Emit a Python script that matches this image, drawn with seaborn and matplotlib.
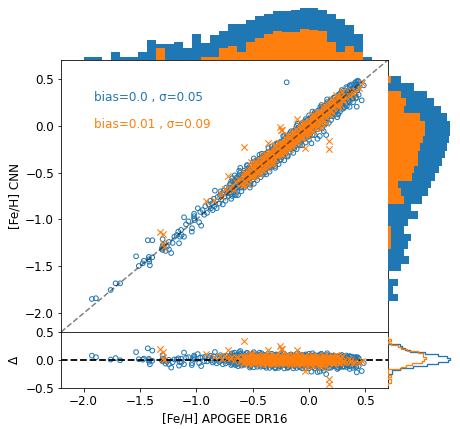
import numpy as np
import matplotlib
matplotlib.use("Agg")
import matplotlib.pyplot as plt
import seaborn as sns

# ---------------- data ----------------
# blue sample ([Fe/H] APOGEE DR16 vs [Fe/H] CNN): outskirts and wings
blue_apogee = [
    -1.926, -1.890, -1.760, -1.716, -1.676, -1.534, -1.510, -1.475, -1.465, -1.430,
    -1.421, -1.421, -1.418, -1.412, -1.391, -1.390, -1.305, -1.300, -1.300, -1.299,
    -1.295, -1.290, -1.272, -1.260, -1.243, -1.243, -1.223, -1.210, -1.195, -1.174,
    -1.160, -1.153, -1.145, -1.136, -1.130, -1.109, -1.109, -1.091, -1.070,
    -1.040, -1.038, -1.020, -1.020, -1.020, -1.015, -0.987, -0.975, -0.965,
    -0.957, -0.945, -0.930, -0.920, -0.905, -0.890,
    -0.875, -0.870, -0.860, -0.855, -0.845, -0.840, -0.835, -0.820, -0.810,
    -0.795, -0.790, -0.785, -0.780, -0.770, -0.765, -0.755, -0.750, -0.740, -0.735, -0.725,
    -0.715, -0.710, -0.705, -0.700, -0.690, -0.685, -0.680, -0.670, -0.665, -0.660, -0.655, -0.650, -0.645,
    -0.635, -0.630, -0.625, -0.620, -0.610, -0.605, -0.600, -0.595, -0.590, -0.580, -0.575, -0.570, -0.565,
    -0.555, -0.550, -0.545, -0.540, -0.535, -0.530, -0.525, -0.520, -0.515, -0.510, -0.505, -0.500, -0.495, -0.490, -0.485,
    -0.478, -0.475, -0.470, -0.465, -0.460, -0.455, -0.450, -0.445, -0.440, -0.435, -0.430, -0.425, -0.420, -0.415, -0.410, -0.405,
    -0.398, -0.395, -0.390, -0.385, -0.380, -0.375, -0.370, -0.365, -0.360, -0.355, -0.350, -0.345, -0.340, -0.335, -0.330, -0.325, -0.322,
    -0.318, -0.315, -0.310, -0.305, -0.300, -0.295, -0.290, -0.285, -0.280, -0.275, -0.270, -0.265, -0.260, -0.255, -0.250, -0.248, -0.245, -0.242,
    -0.238, -0.235, -0.230, -0.225, -0.220, -0.215, -0.210, -0.205, -0.200, -0.199, -0.195, -0.190, -0.185, -0.180, -0.175, -0.170, -0.168, -0.165, -0.162,
    -0.158, -0.155, -0.150, -0.145, -0.140, -0.135, -0.130, -0.125, -0.120, -0.115, -0.110, -0.105, -0.100, -0.095, -0.090, -0.088, -0.085, -0.082,
    -0.078, -0.075, -0.070, -0.065, -0.060, -0.055, -0.050, -0.045, -0.040, -0.035, -0.030, -0.025, -0.020, -0.015, -0.010, -0.008, -0.005, -0.003, -0.001,
    0.002, 0.005, 0.010, 0.015, 0.021, 0.025, 0.030, 0.035, 0.040, 0.045, 0.050, 0.055, 0.060, 0.065, 0.070, 0.072, 0.075, 0.077, 0.079,
    0.082, 0.085, 0.090, 0.095, 0.100, 0.105, 0.110, 0.115, 0.120, 0.125, 0.130, 0.135, 0.140, 0.145, 0.150, 0.152, 0.155, 0.158,
    0.162, 0.165, 0.170, 0.175, 0.180, 0.185, 0.190, 0.195, 0.200, 0.205, 0.210, 0.215, 0.220, 0.225, 0.230, 0.235, 0.238,
    0.242, 0.245, 0.250, 0.255, 0.260, 0.265, 0.270, 0.275, 0.280, 0.290, 0.295, 0.300, 0.305, 0.310, 0.315,
    0.322, 0.325, 0.330, 0.335, 0.340, 0.350, 0.355, 0.360, 0.365, 0.370, 0.380, 0.385, 0.395,
    0.405, 0.410, 0.415, 0.423, 0.430, 0.432, 0.440, 0.467, 0.485,
]
blue_cnn = [
    -1.848, -1.840, -1.752, -1.681, -1.681, -1.393, -1.496, -1.468, -1.440, -1.222,
    -1.400, -1.425, -1.450, -1.489, -1.404, -1.222, -1.310, -1.290, -1.325, -1.211,
    -1.270, -1.300, -1.336, -1.290, -1.318, -1.240, -1.358, -1.250, -1.184, -1.166,
    -1.130, -1.254, -1.184, -1.112, -1.166, -1.184, -0.977, -1.052, -1.020,
    -1.130, -1.094, -0.940, -0.965, -0.990, -1.006, -0.881, -1.030, -0.920,
    -1.066, -0.900, -0.950, -0.860, -0.930, -0.840,
    -0.800, -0.880, -0.830, -0.900, -0.780, -0.860, -0.693, -0.880, -0.760,
    -0.830, -0.740, -0.700, -0.790, -0.720, -0.840, -0.690, -0.760, -0.800, -0.660, -0.720,
    -0.750, -0.660, -0.720, -0.620, -0.780, -0.680, -0.600, -0.710, -0.640, -0.740, -0.580, -0.670, -0.620,
    -0.700, -0.580, -0.640, -0.530, -0.450, -0.600, -0.700, -0.550, -0.620, -0.500, -0.660, -0.580, -0.520,
    -0.620, -0.500, -0.560, -0.450, -0.600, -0.520, -0.660, -0.480, -0.550, -0.420, -0.580, -0.500, -0.460, -0.620, -0.530,
    -0.550, -0.440, -0.490, -0.380, -0.580, -0.460, -0.410, -0.520, -0.350, -0.470, -0.550, -0.400, -0.440, -0.330, -0.500, -0.420,
    -0.470, -0.360, -0.410, -0.300, -0.520, -0.390, -0.330, -0.450, -0.280, -0.400, -0.490, -0.340, -0.370, -0.260, -0.440, -0.310, -0.390,
    -0.420, -0.300, -0.350, -0.220, -0.450, -0.310, -0.270, -0.380, -0.200, -0.330, -0.410, -0.260, -0.290, -0.180, -0.360, -0.230, -0.310, -0.270,
    -0.330, -0.210, -0.260, -0.150, -0.370, -0.230, -0.190, -0.300, -0.120, 0.462, -0.250, -0.330, -0.180, -0.210, -0.100, -0.280, -0.150, -0.230, -0.190,
    -0.250, -0.130, -0.180, -0.070, -0.290, -0.150, -0.110, -0.220, -0.040, -0.170, -0.250, -0.100, -0.130, -0.020, -0.200, -0.070, -0.150, -0.110,
    -0.170, -0.050, -0.100, 0.010, -0.210, -0.070, -0.030, -0.140, 0.040, -0.090, -0.180, -0.020, -0.050, 0.060, -0.120, 0.000, -0.080, -0.040, -0.150,
    -0.090, 0.030, -0.020, 0.090, -0.188, 0.010, 0.050, -0.060, 0.120, -0.010, -0.100, 0.060, 0.030, 0.140, -0.040, 0.080, -0.140, 0.020, 0.100,
    -0.010, 0.110, 0.060, -0.110, 0.170, 0.040, 0.090, -0.030, 0.200, 0.070, -0.060, 0.120, 0.100, 0.220, 0.030, -0.100, 0.160, 0.080,
    0.090, 0.200, 0.140, 0.030, 0.250, 0.120, 0.180, 0.060, 0.270, 0.150, 0.100, 0.210, 0.190, 0.300, 0.120, 0.240, 0.170,
    0.160, 0.280, 0.220, 0.120, 0.330, 0.200, 0.250, 0.150, 0.350, 0.230, 0.290, 0.180, 0.370, 0.260, 0.320,
    0.240, 0.360, 0.300, 0.210, 0.400, 0.280, 0.340, 0.250, 0.420, 0.310, 0.370, 0.290, 0.400,
    0.350, 0.430, 0.290, 0.202, 0.380, 0.479, 0.410, 0.270, 0.430,
]

# blue sample: dense core of the sequence (two CNN readings per APOGEE position)
blue_core_apogee = [
    -0.70, -0.69, -0.68, -0.67, -0.66, -0.65, -0.64, -0.63, -0.62, -0.61,
    -0.60, -0.59, -0.58, -0.57, -0.56, -0.55, -0.54, -0.53, -0.52, -0.51,
    -0.50, -0.49, -0.48, -0.47, -0.46, -0.45, -0.44, -0.43, -0.42, -0.41,
    -0.40, -0.39, -0.38, -0.37, -0.36, -0.35, -0.34, -0.33, -0.32, -0.31,
    -0.30, -0.29, -0.28, -0.27, -0.26, -0.25, -0.24, -0.23, -0.22, -0.21,
    -0.20, -0.19, -0.18, -0.17, -0.16, -0.15, -0.14, -0.13, -0.12, -0.11,
    -0.10, -0.09, -0.08, -0.07, -0.06, -0.05, -0.04, -0.03, -0.02, -0.01,
    0.00, 0.01, 0.02, 0.03, 0.04, 0.05, 0.06, 0.07, 0.08, 0.09,
    0.10, 0.11, 0.12, 0.13, 0.14, 0.15, 0.16, 0.17, 0.18, 0.19,
    0.20, 0.21, 0.22, 0.23, 0.24, 0.25, 0.26, 0.27, 0.28, 0.29,
    0.30, 0.31, 0.32, 0.33, 0.34, 0.35, 0.36, 0.37, 0.38, 0.39,
    0.40, 0.41, 0.42, 0.43, 0.44,
]
blue_core_cnn_a = [
    -0.63, -0.73, -0.56, -0.66, -0.61, -0.74, -0.55, -0.65, -0.48, -0.59,
    -0.66, -0.53, -0.58, -0.50, -0.60, -0.43, -0.53, -0.48, -0.61, -0.42,
    -0.52, -0.35, -0.46, -0.53, -0.40, -0.45, -0.37, -0.47, -0.30, -0.40,
    -0.37, -0.50, -0.31, -0.41, -0.24, -0.35, -0.42, -0.29, -0.34, -0.26,
    -0.36, -0.19, -0.29, -0.24, -0.37, -0.18, -0.28, -0.11, -0.22, -0.29,
    -0.16, -0.21, -0.13, -0.23, -0.06, -0.16, -0.11, -0.24, -0.05, -0.15,
    0.02, -0.09, -0.16, -0.03, -0.08, 0.00, -0.10, 0.07, -0.03, 0.02,
    -0.11, 0.08, -0.02, 0.15, 0.04, -0.03, 0.10, 0.05, 0.13, 0.03,
    0.20, 0.10, 0.15, 0.02, 0.21, 0.11, 0.28, 0.17, 0.10, 0.23,
    0.18, 0.23, 0.13, 0.30, 0.20, 0.25, 0.12, 0.31, 0.21, 0.38,
    0.27, 0.20, 0.33, 0.28, 0.36, 0.26, 0.43, 0.33, 0.38, 0.25,
    0.44, 0.34, 0.47, 0.40, 0.33,
]
blue_core_cnn_b = [
    -0.71, -0.59, -0.75, -0.63, -0.53, -0.68, -0.56, -0.74, -0.59, -0.50,
    -0.65, -0.60, -0.48, -0.64, -0.52, -0.42, -0.57, -0.45, -0.63, -0.48,
    -0.39, -0.54, -0.49, -0.37, -0.53, -0.41, -0.31, -0.46, -0.34, -0.52,
    -0.39, -0.30, -0.45, -0.40, -0.28, -0.44, -0.32, -0.22, -0.37, -0.25,
    -0.43, -0.28, -0.19, -0.34, -0.29, -0.17, -0.33, -0.21, -0.11, -0.26,
    -0.14, -0.32, -0.17, -0.08, -0.23, -0.18, -0.06, -0.22, -0.10, 0.00,
    -0.15, -0.03, -0.21, -0.06, 0.03, -0.12, -0.07, 0.05, -0.11, 0.01,
    0.11, -0.04, 0.08, -0.10, 0.05, 0.14, -0.01, 0.04, 0.16, 0.00,
    0.12, 0.22, 0.07, 0.19, 0.01, 0.16, 0.25, 0.10, 0.15, 0.27,
    0.11, 0.20, 0.30, 0.15, 0.27, 0.09, 0.24, 0.33, 0.18, 0.23,
    0.35, 0.19, 0.31, 0.41, 0.26, 0.38, 0.20, 0.35, 0.44, 0.29,
    0.34, 0.46, 0.30, 0.42, 0.47,
]

# orange sample: outskirts and wings
orange_apogee = [
    -1.320, -1.296, -1.296, -1.290,
    -0.915, -0.847,
    -0.790, -0.770, -0.750, -0.730,
    -0.716, -0.700, -0.680, -0.665, -0.650,
    -0.630, -0.600, -0.574,
    -0.555, -0.540, -0.525, -0.514, -0.500, -0.485,
    -0.475, -0.460, -0.450, -0.440, -0.425, -0.415, -0.405,
    -0.395, -0.385, -0.375, -0.365, -0.360, -0.350, -0.340, -0.330, -0.325,
    -0.315, -0.305, -0.295, -0.285, -0.275, -0.270, -0.261, -0.255, -0.250, -0.246,
    -0.237, -0.235, -0.225, -0.215, -0.205, -0.195, -0.185, -0.175, -0.165,
    -0.155, -0.145, -0.135, -0.125, -0.115, -0.104, -0.100, -0.090, -0.085,
    -0.075, -0.070, -0.060, -0.050, -0.038, -0.035, -0.025, -0.020, -0.010, -0.005,
    0.005, 0.010, 0.020, 0.030, 0.035, 0.045, 0.050, 0.060, 0.070, 0.075,
    0.085, 0.090, 0.100, 0.105, 0.115, 0.125, 0.130, 0.140, 0.150, 0.155,
    0.175, 0.179, 0.190, 0.200, 0.215, 0.230,
    0.260, 0.280, 0.300,
    0.330, 0.350, 0.360, 0.375, 0.390,
    0.410, 0.440, 0.467,
]
orange_cnn = [
    -1.130, -1.158, -1.254, -1.290,
    -0.803, -0.793,
    -0.720, -0.760, -0.680, -0.700,
    -0.537, -0.660, -0.630, -0.690, -0.600,
    -0.570, -0.620, -0.231,
    -0.500, -0.570, -0.470, -0.384, -0.530, -0.440,
    -0.420, -0.500, -0.360, -0.450, -0.390, -0.470, -0.340,
    -0.400, -0.310, -0.450, -0.181, -0.350, -0.280, -0.410, -0.300, -0.360,
    -0.270, -0.360, -0.220, -0.310, -0.250, -0.190, -0.017, -0.300, -0.210, -0.046,
    -0.046, -0.240, -0.180, -0.270, -0.140, -0.220, -0.100, -0.190, -0.250,
    -0.160, -0.080, -0.200, -0.110, -0.040, 0.070, -0.150, -0.060, -0.120,
    -0.100, -0.020, -0.130, -0.060, -0.235, 0.010, -0.090, -0.030, -0.110, 0.020,
    -0.050, 0.050, -0.010, 0.080, -0.070, 0.030, 0.100, -0.020, 0.060, 0.110,
    0.020, 0.120, 0.070, -0.020, 0.140, 0.050, 0.170, 0.100, 0.030, 0.130,
    -0.252, -0.164, 0.160, 0.240, 0.190, 0.270,
    0.220, 0.310, 0.260,
    0.290, 0.360, 0.320, 0.380, 0.340,
    0.370, 0.400, 0.452,
]

# orange sample: dense core (two CNN readings per APOGEE position)
orange_core_apogee = [
    -0.600, -0.588, -0.576, -0.564, -0.552, -0.540, -0.528, -0.516, -0.504, -0.492,
    -0.480, -0.468, -0.456, -0.444, -0.432, -0.420, -0.408, -0.396, -0.384, -0.372,
    -0.360, -0.348, -0.336, -0.324, -0.312, -0.300, -0.288, -0.276, -0.264, -0.252,
    -0.240, -0.228, -0.216, -0.204, -0.192, -0.180, -0.168, -0.156, -0.144, -0.132,
    -0.120, -0.108, -0.096, -0.084, -0.072, -0.060, -0.048, -0.036, -0.024, -0.012,
    0.000, 0.012, 0.024, 0.036, 0.048, 0.060, 0.072, 0.084, 0.096, 0.108,
    0.120, 0.132, 0.144, 0.156, 0.168, 0.180, 0.192, 0.204, 0.216, 0.228,
    0.240, 0.252, 0.264, 0.276, 0.288, 0.300,
]
orange_core_cnn_a = [
    -0.580, -0.638, -0.506, -0.584, -0.512, -0.620, -0.528, -0.426, -0.544, -0.472,
    -0.530, -0.398, -0.476, -0.404, -0.512, -0.420, -0.318, -0.436, -0.364, -0.422,
    -0.290, -0.368, -0.296, -0.404, -0.312, -0.210, -0.328, -0.256, -0.314, -0.182,
    -0.260, -0.188, -0.296, -0.204, -0.102, -0.220, -0.148, -0.206, -0.074, -0.152,
    -0.080, -0.188, -0.096, 0.006, -0.112, -0.040, -0.098, 0.034, -0.044, 0.028,
    -0.080, 0.012, 0.114, -0.004, 0.068, 0.010, 0.142, 0.064, 0.136, 0.028,
    0.120, 0.222, 0.104, 0.176, 0.118, 0.250, 0.172, 0.244, 0.136, 0.228,
    0.330, 0.212, 0.284, 0.226, 0.358, 0.280,
]
orange_core_cnn_b = [
    -0.610, -0.538, -0.636, -0.534, -0.472, -0.570, -0.518, -0.526, -0.454, -0.552,
    -0.450, -0.388, -0.486, -0.434, -0.442, -0.370, -0.468, -0.366, -0.304, -0.402,
    -0.350, -0.358, -0.286, -0.384, -0.282, -0.220, -0.318, -0.266, -0.274, -0.202,
    -0.300, -0.198, -0.136, -0.234, -0.182, -0.190, -0.118, -0.216, -0.114, -0.052,
    -0.150, -0.098, -0.106, -0.034, -0.132, -0.030, 0.032, -0.066, -0.014, -0.022,
    0.050, -0.048, 0.054, 0.116, 0.018, 0.070, 0.062, 0.134, 0.036, 0.138,
    0.200, 0.102, 0.154, 0.146, 0.218, 0.120, 0.222, 0.284, 0.186, 0.238,
    0.230, 0.302, 0.204, 0.306, 0.368, 0.270,
]

# marginal histogram heights
top_start, top_width = -2.0, 0.08
top_blue = [2.7, 2.7, 0, 8, 2.7, 2.7, 8, 20, 16, 16, 18, 12, 26, 17, 25, 29,
            36, 36, 40, 44, 46, 49, 49, 50, 52, 52, 50, 46, 41, 35, 26, 3]
top_orange = [0, 0, 0, 0, 0, 0, 0, 0, 12, 0, 0, 0, 0, 3, 3, 12,
              14, 8, 18, 22, 26, 29, 28, 28, 31, 30, 29, 18, 8, 14, 8, 0]

right_start, right_width = -1.87, 0.08
right_blue = [9.7, 4.5, 9.7, 0, 12.7, 20.7, 15.7, 19.7, 22.7, 15.7, 19.7, 29.7, 22.7, 33.7, 39.7,
              42.7, 46.7, 50.7, 53.7, 56.7, 58.7, 60.7, 61.7, 61.7, 58.7, 52.7, 45.7, 38.7, 25.7, 12.7]
right_orange = [0, 0, 0, 0, 0, 0, 0, 3, 3, 3, 0, 0, 0, 15.7, 12.7,
                9.7, 23.7, 25.7, 29.7, 29.7, 31.7, 34.7, 36.7, 36.7, 31.7, 15.7, 17.7, 13, 0, 3]

res_blue_start, res_blue_width = -0.25, 0.0357
res_blue = [3.7, 3.7, 12, 25.3, 38.7, 50.3, 60.3, 62.3, 59.3, 50.3, 37, 22, 17, 14.3, 12]
res_orange_start, res_orange_width = -0.417, 0.036
res_orange = [3, 3, 0, 3, 0, 0, 0, 12.7, 18, 23.7, 33.7, 36.3, 37.7, 35.3, 34.7,
              29.7, 18.7, 12.7, 10.3, 3, 0, 3]

text_blue = "bias=0.0 , σ=0.05"
text_orange = "bias=0.01 , σ=0.09"

# ---------------- figure ----------------
plt.rcParams["font.family"] = ["DejaVu Sans"]
plt.rcParams["font.size"] = 12

W, H, DPI = 460, 429, 72
fig = plt.figure(figsize=(W / DPI, H / DPI), dpi=DPI)


def rect(l, t, r, b):
    return [l / W, 1 - b / H, (r - l) / W, (b - t) / H]


ax_main = fig.add_axes(rect(61, 60, 388, 332))
ax_res = fig.add_axes(rect(61, 332, 388, 388))
ax_top = fig.add_axes(rect(61, 0, 388, 60))
ax_right = fig.add_axes(rect(388, 60, 455, 332))
ax_rres = fig.add_axes(rect(388, 332, 455, 388))

C0, C1 = "#1f77b4", "#ff7f0e"
bx = np.array(blue_apogee + blue_core_apogee + blue_core_apogee)
by = np.array(blue_cnn + blue_core_cnn_a + blue_core_cnn_b)
ox = np.array(orange_apogee + orange_core_apogee + orange_core_apogee)
oy = np.array(orange_cnn + orange_core_cnn_a + orange_core_cnn_b)

# main scatter
sns.scatterplot(x=bx, y=by, ax=ax_main, marker="o", s=22, facecolor="none",
                edgecolor=C0, color=C0, linewidth=1.0, zorder=2)
sns.scatterplot(x=ox, y=oy, ax=ax_main, marker="x", s=40, color=C1,
                linewidth=1.1, zorder=3)
ax_main.axline((0, 0), slope=1, color="k", ls="--", lw=1.5, alpha=0.5, zorder=4)
ax_main.set_xlim(-2.2, 0.7)
ax_main.set_ylim(-2.2, 0.7)
ax_main.set_yticks([-2.0, -1.5, -1.0, -0.5, 0.0, 0.5])
ax_main.tick_params(bottom=False, labelbottom=False, labelsize=12)
ax_main.set_xlabel("")
ax_main.set_ylabel("[Fe/H] CNN", fontsize=12)
ax_main.text(0.1, 0.85, text_blue, transform=ax_main.transAxes, color=C0, fontsize=12)
ax_main.text(0.1, 0.75, text_orange, transform=ax_main.transAxes, color=C1, fontsize=12)

# residuals
sns.scatterplot(x=bx, y=by - bx, ax=ax_res, marker="o", s=22, facecolor="none",
                edgecolor=C0, color=C0, linewidth=1.0, zorder=2)
ax_res.axhline(0, color="k", ls="--", lw=1.8, zorder=2.5)
sns.scatterplot(x=ox, y=oy - ox, ax=ax_res, marker="x", s=40, color=C1,
                linewidth=1.1, zorder=3)
ax_res.set_xlim(-2.2, 0.7)
ax_res.set_ylim(-0.5, 0.5)
ax_res.set_xticks([-2.0, -1.5, -1.0, -0.5, 0.0, 0.5])
ax_res.set_yticks([-0.5, 0.0, 0.5])
ax_res.tick_params(labelsize=12)
ax_res.set_xlabel("[Fe/H] APOGEE DR16", fontsize=12)
ax_res.set_ylabel("Δ", fontsize=12)


def centers_edges(start, width, n):
    edges = start + width * np.arange(n + 1)
    return edges[:-1] + width / 2, [float(v) for v in edges]


# top histogram
c, e = centers_edges(top_start, top_width, len(top_blue))
sns.histplot(x=c, weights=top_blue, bins=e, ax=ax_top, color=C0, alpha=1, linewidth=0)
sns.histplot(x=c, weights=top_orange, bins=e, ax=ax_top, color=C1, alpha=1, linewidth=0)
ax_top.set_xlim(-2.2, 0.7)
ax_top.set_ylim(0, 60)
ax_top.axis("off")

# right histogram
c, e = centers_edges(right_start, right_width, len(right_blue))
sns.histplot(y=c, weights=right_blue, bins=e, ax=ax_right, color=C0, alpha=1, linewidth=0)
sns.histplot(y=c, weights=right_orange, bins=e, ax=ax_right, color=C1, alpha=1, linewidth=0)
ax_right.set_ylim(-2.2, 0.7)
ax_right.set_xlim(0, 67)
ax_right.axis("off")

# residual step histograms
for start, width, vals, col in [(res_blue_start, res_blue_width, res_blue, C0),
                                (res_orange_start, res_orange_width, res_orange, C1)]:
    padded = [0] + list(vals) + [0]
    c, e = centers_edges(start - width, width, len(padded))
    sns.histplot(y=c, weights=padded, bins=e, ax=ax_rres, element="step",
                 fill=False, color=col, linewidth=1.3)
ax_rres.set_ylim(-0.5, 0.5)
ax_rres.set_xlim(0, 67)
ax_rres.axis("off")

fig.savefig("out.png", dpi=DPI)
